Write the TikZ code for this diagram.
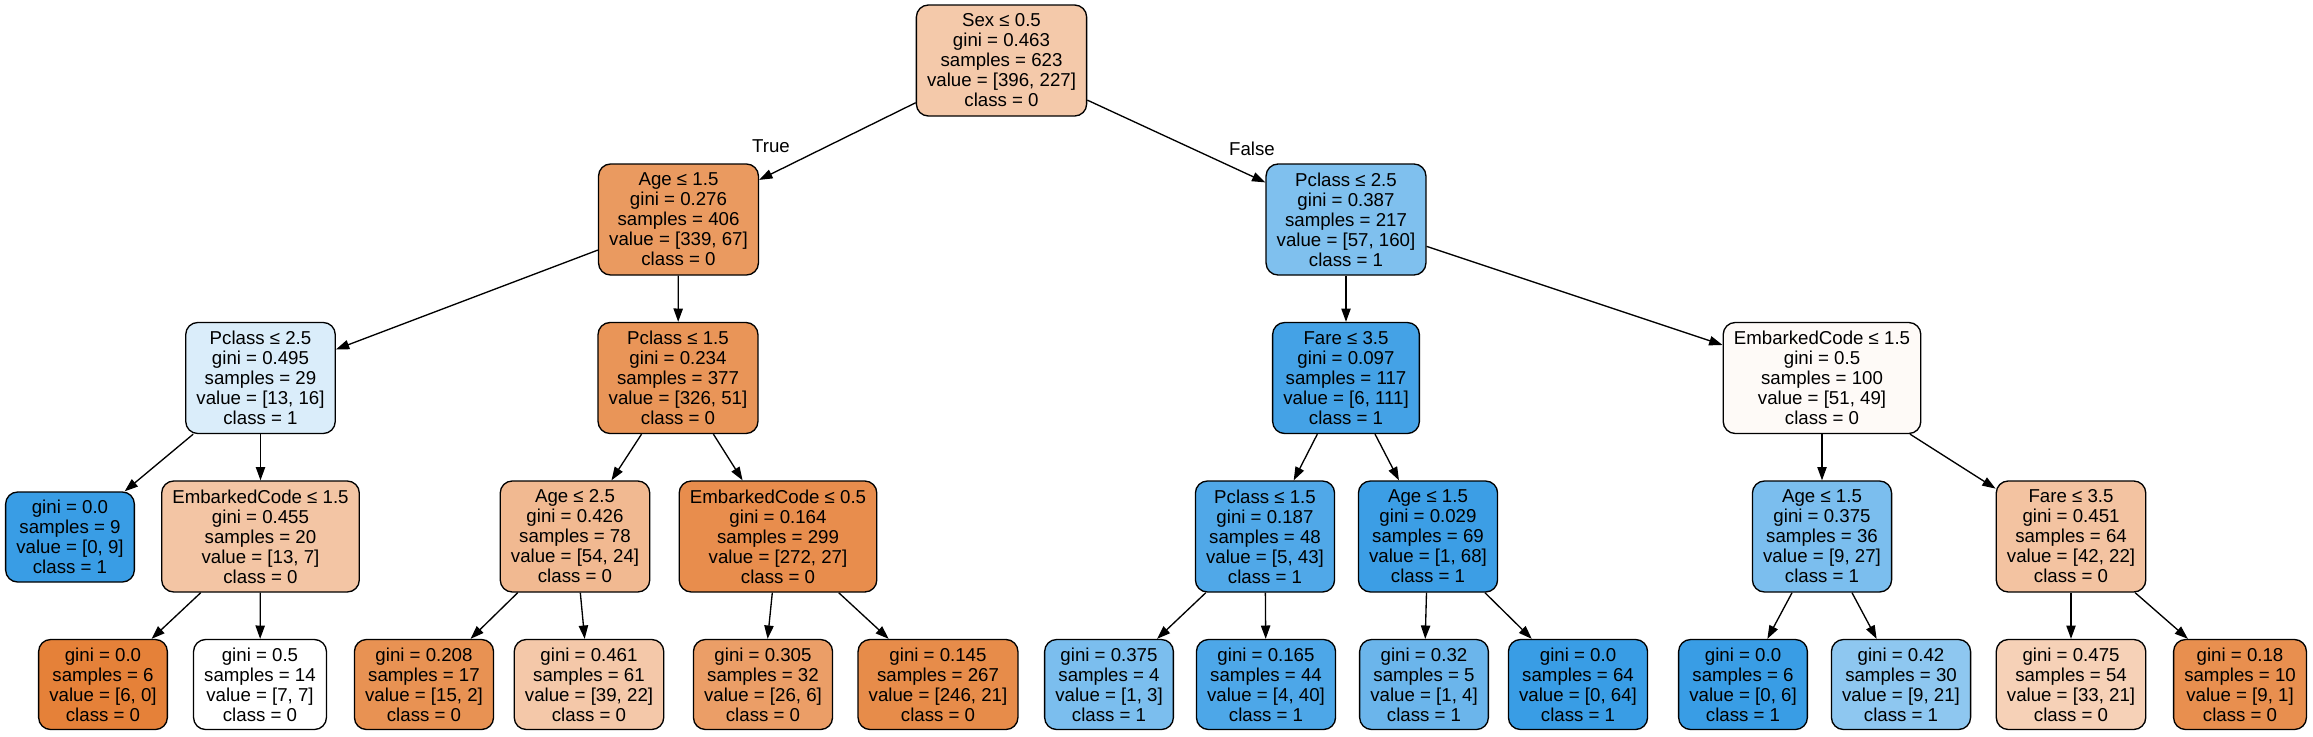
\documentclass[tikz,border=0pt]{standalone}
\usepackage{fontspec}
\setmainfont{Liberation Sans}
\usetikzlibrary{arrows.meta}
\definecolor{czero}{RGB}{229,129,57}
\definecolor{cone}{RGB}{57,157,229}
\begin{document}
\begin{tikzpicture}[x=0.75pt,y=-0.75pt,
  tn/.style={draw=black, line width=1pt, rounded corners=9pt, align=center,
    font=\fontsize{14pt}{15pt}\selectfont, inner xsep=8pt, inner ysep=0pt, minimum height=83.25pt},
  leaf/.style={tn, minimum height=67.5pt},
  conn/.style={draw=black, line width=1pt, -{Triangle[length=10pt,width=7pt]}},
  lbl/.style={font=\fontsize{14pt}{15pt}\selectfont, inner sep=0pt}]
\fill[white] (0,0) rectangle (2313,736);
\useasboundingbox (0,0) rectangle (2313,736);
% level 0
\node[tn, fill=czero!42.7!white] (root) at (1001.5,60.5) {Sex ≤ 0.5\\gini = 0.463\\samples = 623\\value = [396, 227]\\class = 0};
% level 1
\node[tn, fill=czero!80.2!white] (age1) at (678.5,219.5) {Age ≤ 1.5\\gini = 0.276\\samples = 406\\value = [339, 67]\\class = 0};
\node[tn, fill=cone!64.4!white] (pc1) at (1346,219.5) {Pclass ≤ 2.5\\gini = 0.387\\samples = 217\\value = [57, 160]\\class = 1};
% level 2
\node[tn, fill=cone!18.75!white] (pcl) at (260.5,378) {Pclass ≤ 2.5\\gini = 0.495\\samples = 29\\value = [13, 16]\\class = 1};
\node[tn, fill=czero!84.4!white] (pcm) at (678,378) {Pclass ≤ 1.5\\gini = 0.234\\samples = 377\\value = [326, 51]\\class = 0};
\node[tn, fill=cone!94.6!white] (fare) at (1346,378) {Fare ≤ 3.5\\gini = 0.097\\samples = 117\\value = [6, 111]\\class = 1};
\node[tn, fill=czero!3.9!white] (embr) at (1822,378) {EmbarkedCode ≤ 1.5\\gini = 0.5\\samples = 100\\value = [51, 49]\\class = 0};
% level 3
\node[leaf, fill=cone] (l1) at (70,537) {gini = 0.0\\samples = 9\\value = [0, 9]\\class = 1};
\node[tn, fill=czero!46.2!white] (embl) at (260.5,536.5) {EmbarkedCode ≤ 1.5\\gini = 0.455\\samples = 20\\value = [13, 7]\\class = 0};
\node[tn, fill=czero!55.6!white] (age25) at (575,536.5) {Age ≤ 2.5\\gini = 0.426\\samples = 78\\value = [54, 24]\\class = 0};
\node[tn, fill=czero!90.1!white] (emb05) at (778,536.5) {EmbarkedCode ≤ 0.5\\gini = 0.164\\samples = 299\\value = [272, 27]\\class = 0};
\node[tn, fill=cone!88.4!white] (pc15) at (1265,536.5) {Pclass ≤ 1.5\\gini = 0.187\\samples = 48\\value = [5, 43]\\class = 1};
\node[tn, fill=cone!98.5!white] (age15a) at (1428,536.5) {Age ≤ 1.5\\gini = 0.029\\samples = 69\\value = [1, 68]\\class = 1};
\node[tn, fill=cone!66.7!white] (age15b) at (1822,536.5) {Age ≤ 1.5\\gini = 0.375\\samples = 36\\value = [9, 27]\\class = 1};
\node[tn, fill=czero!47.6!white] (fare2) at (2071,536.5) {Fare ≤ 3.5\\gini = 0.451\\samples = 64\\value = [42, 22]\\class = 0};
% level 4
\node[leaf, fill=czero] (l2) at (103,684.5) {gini = 0.0\\samples = 6\\value = [6, 0]\\class = 0};
\node[leaf, fill=white] (l3) at (260,684.5) {gini = 0.5\\samples = 14\\value = [7, 7]\\class = 0};
\node[leaf, fill=czero!86.7!white] (l4) at (424,684.5) {gini = 0.208\\samples = 17\\value = [15, 2]\\class = 0};
\node[leaf, fill=czero!43.6!white] (l5) at (589,684.5) {gini = 0.461\\samples = 61\\value = [39, 22]\\class = 0};
\node[leaf, fill=czero!76.9!white] (l6) at (763,684.5) {gini = 0.305\\samples = 32\\value = [26, 6]\\class = 0};
\node[leaf, fill=czero!91.5!white] (l7) at (938,684.5) {gini = 0.145\\samples = 267\\value = [246, 21]\\class = 0};
\node[leaf, fill=cone!66.7!white] (l8) at (1109,684.5) {gini = 0.375\\samples = 4\\value = [1, 3]\\class = 1};
\node[leaf, fill=cone!90!white] (l9) at (1266,684.5) {gini = 0.165\\samples = 44\\value = [4, 40]\\class = 1};
\node[leaf, fill=cone!75!white] (l10) at (1424,684.5) {gini = 0.32\\samples = 5\\value = [1, 4]\\class = 1};
\node[leaf, fill=cone] (l11) at (1578,684.5) {gini = 0.0\\samples = 64\\value = [0, 64]\\class = 1};
\node[leaf, fill=cone] (l12) at (1743,684.5) {gini = 0.0\\samples = 6\\value = [0, 6]\\class = 1};
\node[leaf, fill=cone!57.1!white] (l13) at (1901,684.5) {gini = 0.42\\samples = 30\\value = [9, 21]\\class = 1};
\node[leaf, fill=czero!36.4!white] (l14) at (2071,684.5) {gini = 0.475\\samples = 54\\value = [33, 21]\\class = 0};
\node[leaf, fill=czero!88.9!white] (l15) at (2240,684.5) {gini = 0.18\\samples = 10\\value = [9, 1]\\class = 0};
% edge labels
\node[lbl] (ltrue) at (771,146) {True};
\node[lbl] (lfalse) at (1252,149) {False};
% edges
\draw[conn] (root) -- (age1);
\draw[conn] (root) -- (pc1);
\draw[conn] (age1) -- (pcl);
\draw[conn] (age1) -- (pcm);
\draw[conn] (pc1) -- (fare);
\draw[conn] (pc1) -- (embr);
\draw[conn] (pcl) -- (l1);
\draw[conn] (pcl) -- (embl);
\draw[conn] (embl) -- (l2);
\draw[conn] (embl) -- (l3);
\draw[conn] (pcm) -- (age25);
\draw[conn] (pcm) -- (emb05);
\draw[conn] (age25) -- (l4);
\draw[conn] (age25) -- (l5);
\draw[conn] (emb05) -- (l6);
\draw[conn] (emb05) -- (l7);
\draw[conn] (fare) -- (pc15);
\draw[conn] (fare) -- (age15a);
\draw[conn] (pc15) -- (l8);
\draw[conn] (pc15) -- (l9);
\draw[conn] (age15a) -- (l10);
\draw[conn] (age15a) -- (l11);
\draw[conn] (embr) -- (age15b);
\draw[conn] (embr) -- (fare2);
\draw[conn] (age15b) -- (l12);
\draw[conn] (age15b) -- (l13);
\draw[conn] (fare2) -- (l14);
\draw[conn] (fare2) -- (l15);
\end{tikzpicture}
\end{document}
